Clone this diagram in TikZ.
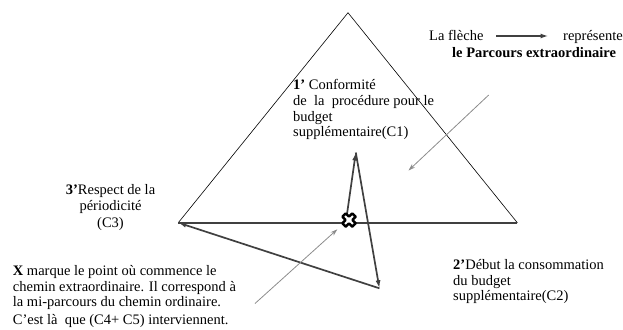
\documentclass[tikz,border=0pt]{standalone}
\usepackage{fontspec}
\setmainfont{Liberation Serif}
\usetikzlibrary{arrows.meta}
\definecolor{darkline}{RGB}{64,64,64}
\definecolor{lightarrow}{RGB}{140,140,140}
\begin{document}
\begin{tikzpicture}[x=1bp,y=-1bp,
  txt/.style={inner sep=0pt, anchor=base west, font=\fontsize{14.5bp}{15.5bp}\selectfont},
  txtc/.style={txt, anchor=base},
  side/.style={draw=black, line width=0.6bp},
  heavy/.style={draw=darkline, line width=1.7bp},
  heavyarrow/.style={heavy, -{Latex[length=8bp,width=5bp]}},
  thinarrow/.style={draw=lightarrow, line width=0.8bp, -{Stealth[length=7bp,width=4.5bp]}},
  xmark/.style={draw=black, fill=white, line width=2.4bp, line join=round}
]
\useasboundingbox (0,0) rectangle (623,329);
% triangle
\coordinate (apex) at (348,12.7);
\coordinate (lc) at (178.3,222.7);
\coordinate (rc) at (517.3,222.7);
\draw[side] (lc) -- (apex) -- (rc);
\draw[heavy] (rc) -- (lc);
% extraordinary path
\coordinate (xs) at (347,214);
\coordinate (top) at (355.8,152.5);
\coordinate (bot) at (379.4,288.3);
\draw[heavyarrow] (xs) -- (top);
\draw[heavyarrow] (top) -- (bot);
\draw[heavyarrow] (bot) -- (lc);
% gray pointer arrows
\coordinate (ga1) at (488.7,95);
\coordinate (gb1) at (408.5,170.5);
\draw[thinarrow] (ga1) -- (gb1);
\coordinate (ga2) at (255,303.5);
\coordinate (gb2) at (337.3,229.3);
\draw[thinarrow] (ga2) -- (gb2);
% X mark
\begin{scope}[shift={(349,220)}, rotate=45]
  \def\a{2.4}\def\b{7}
  \draw[xmark] (\a,\b) -- (\a,\a) -- (\b,\a) -- (\b,-\a) -- (\a,-\a) -- (\a,-\b) -- (-\a,-\b) -- (-\a,-\a) -- (-\b,-\a) -- (-\b,\a) -- (-\a,\a) -- (-\a,\b) -- cycle;
\end{scope}
% legend
\node[txt] (lega) at (429,40) {La flèche};
\coordinate (lgs) at (496,36);
\coordinate (lge) at (548.5,36);
\draw[heavyarrow] (lgs) -- (lge);
\node[txt] (legb) at (563,40) {représente};
\node[txt] (legc) at (452,57) {\textbf{le Parcours extraordinaire}};
% C1
\node[txt] (c1a) at (293,89.5) {\textbf{1’} Conformité};
\node[txt] (c1b) at (293,105) {de\ \ la\ \ procédure pour le};
\node[txt] (c1c) at (293,121) {budget};
\node[txt] (c1d) at (293,136.7) {supplémentaire(C1)};
% C3
\node[txtc] (c3a) at (110.5,194.5) {\textbf{3’}Respect de la};
\node[txtc] (c3b) at (110.5,210.5) {périodicité};
\node[txtc] (c3c) at (110.5,227) {(C3)};
% C2
\node[txt] (c2a) at (453,269.5) {\textbf{2’}Début la consommation};
\node[txt] (c2b) at (453,285) {du budget};
\node[txt] (c2c) at (453,300.5) {supplémentaire(C2)};
% X text
\node[txt] (xa) at (12.7,275.3) {\textbf{X} marque le point où commence le};
\node[txt] (xb) at (12.7,291) {chemin extraordinaire. Il correspond à};
\node[txt] (xc) at (12.7,306.5) {la mi-parcours du chemin ordinaire.};
\node[txt] (xd) at (12.7,324.7) {C’est là\ \ que (C4+ C5) interviennent.};
\end{tikzpicture}
\end{document}
